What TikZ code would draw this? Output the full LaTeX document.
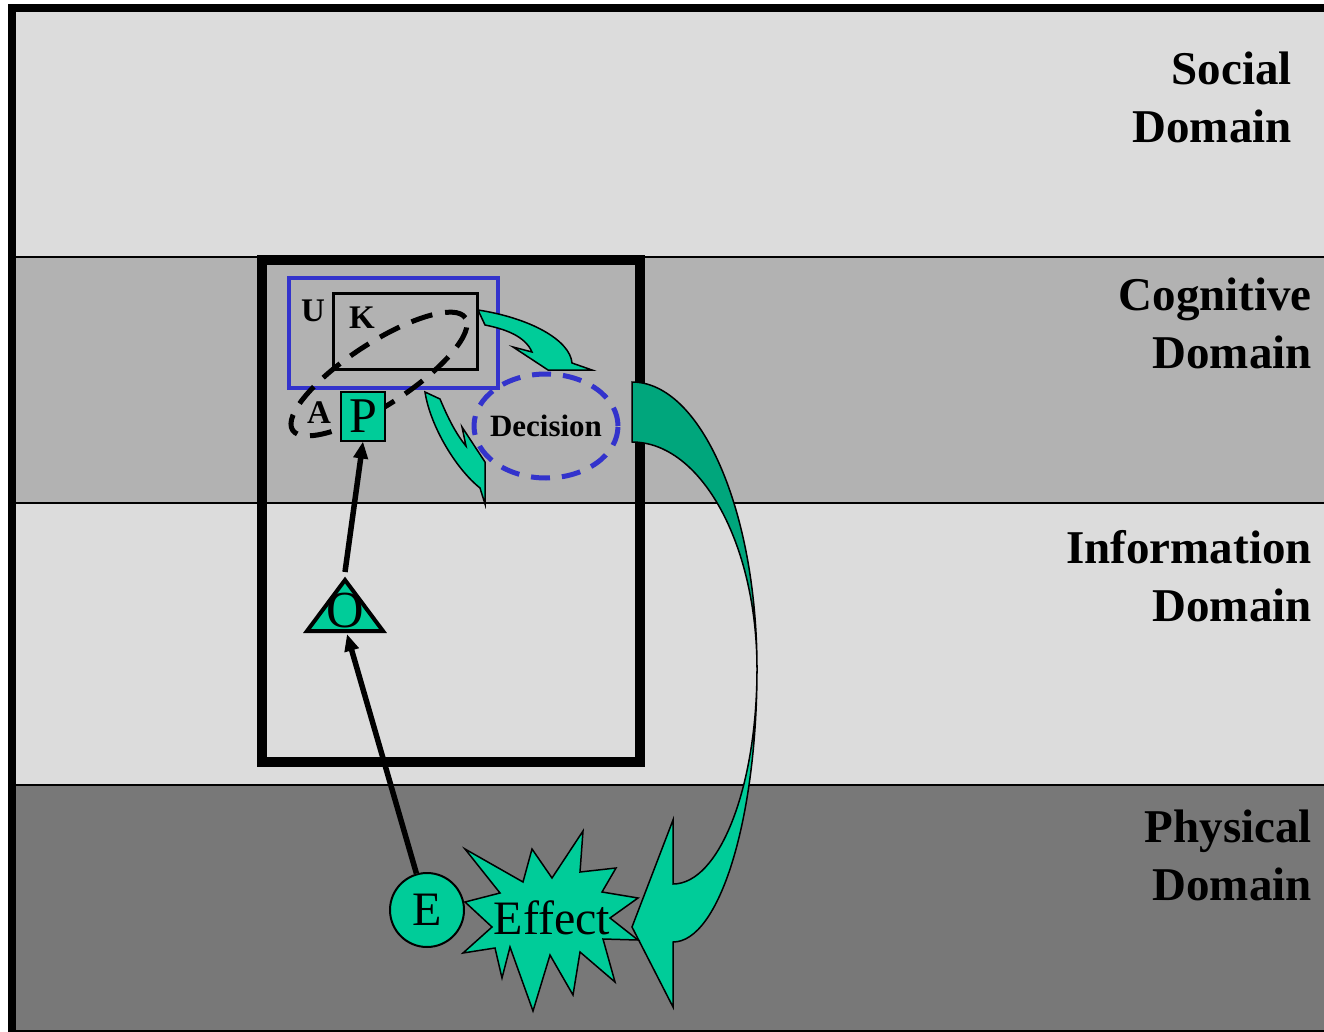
\documentclass[tikz,border=0pt]{standalone}
\usepackage{fontspec}
\setmainfont{Liberation Serif}
\usetikzlibrary{shapes.geometric,arrows.meta}
\definecolor{bandlight}{RGB}{220,220,220}
\definecolor{bandmid}{RGB}{178,178,178}
\definecolor{banddark}{RGB}{120,120,120}
\definecolor{sea}{RGB}{0,204,153}
\definecolor{seadark}{RGB}{0,166,124}
\definecolor{ublue}{RGB}{51,51,204}
\begin{document}
\begin{tikzpicture}[x=1pt,y=-1pt,
  sepline/.style={line width=2pt},
  domlabel/.style={font=\bfseries\fontsize{47}{58}\selectfont, align=right, anchor=north east, inner sep=0pt},
  greenshape/.style={fill=sea, draw=black, line width=1.5pt, line join=miter},
  bigtxt/.style={font=\fontsize{48}{48}\selectfont, inner sep=0pt},
  smalllbl/.style={font=\bfseries\fontsize{33}{33}\selectfont, inner sep=0pt},
  conn/.style={line width=5.5pt, -{Triangle[length=17pt,width=14pt]}},
]
\useasboundingbox (0,0) rectangle (1324,1032);
\clip (0,0) rectangle (1324,1032);
\fill[white] (0,0) rectangle (1324,1032);
% bands
\fill[bandlight] (12,8) rectangle (1340,257);
\fill[bandmid] (12,257) rectangle (1340,503);
\fill[bandlight] (12,503) rectangle (1340,785);
\fill[banddark] (12,785) rectangle (1340,1034);
\draw[sepline] (12,257) -- (1340,257);
\draw[sepline] (12,503) -- (1340,503);
\draw[sepline] (12,785) -- (1340,785);
\draw[line width=8pt] (12,8) rectangle (1340,1034);
% domain labels
\node[domlabel] (social) at (1292,52) {Social\\Domain};
\node[domlabel] (cog) at (1312,278) {Cognitive\\Domain};
\node[domlabel] (info) at (1312,530) {Information\\Domain};
\node[domlabel] (phys) at (1312,810) {Physical\\Domain};
% inner frame
\draw[line width=10pt] (262,260) rectangle (640,762);
% U and K boxes
\draw[ublue, line width=4.5pt] (289,278) rectangle (498,388);
\draw[line width=3pt] (333,293) rectangle (477,369);
\node[smalllbl] (U) at (313,311) {U};
\node[smalllbl] (K) at (362,318) {K};
% dashed ellipse around A and P
\node[ellipse, draw, line width=5pt, dash pattern=on 22pt off 13pt, rotate=33,
      minimum width=206pt, minimum height=62pt, inner sep=0pt] (AP) at (379,374) {};
\node[smalllbl] (A) at (319,413) {A};
\node[rectangle, draw, fill=sea, line width=2pt, minimum width=44pt, minimum height=49pt,
      inner sep=0pt, font=\fontsize{50}{50}\selectfont] (P) at (363,416) {P};
% decision
\node[inner sep=0pt, font=\bfseries\fontsize{31}{31}\selectfont] (D) at (546,426) {Decision};
\draw[ublue, line width=5pt, dash pattern=on 19pt off 12pt]
  (D.center) ellipse [x radius=72pt, y radius=52pt];
% small green curved arrows
\filldraw[greenshape] (478,310) -- (485,325)
  .. controls (505,329) and (525,336) .. (532,352)
  -- (513,347) -- (548,370) -- (592,370) -- (572,363)
  .. controls (570,340) and (530,318) .. (478,310) -- cycle;
\filldraw[greenshape] (425,392) -- (440,399) .. controls (448,418) and (456,434) .. (466,446)
  -- (462,427) -- (485,462) -- (485,504) -- (480,488)
  .. controls (455,468) and (430,425) .. (425,392) -- cycle;
% big curved arrow
\filldraw[fill=seadark, draw=black, line width=1.5pt]
  (632,382) .. controls (701,382) and (757,511) .. (757,669)
  .. controls (757,544) and (701,442) .. (632,442) -- cycle;
\filldraw[greenshape]
  (757,669) .. controls (757,820) and (719,942) .. (673,942)
  -- (673,1007) -- (632,927) -- (673,820) -- (673,884)
  .. controls (719,884) and (757,788) .. (757,669) -- cycle;
% effect star
\filldraw[greenshape] (465,849) -- (523,882) -- (532,849) -- (552,878) -- (583,831)
  -- (580,872) -- (616,868) -- (602,892) -- (638,898) -- (610,918) -- (638,940)
  -- (603,939) -- (615,982) -- (580,952) -- (573,995) -- (550,955) -- (533,1011)
  -- (510,947) -- (502,978) -- (495,948) -- (463,953) -- (492,927) -- (465,902)
  -- (500,893) -- cycle;
\node[bigtxt] (effect) at (552,918) {Effect};
% E circle
\node[circle, draw, line width=2pt, fill=sea, minimum size=74pt, inner sep=0pt,
      font=\fontsize{48}{48}\selectfont] (E) at (427,910) {E};
% O triangle
\filldraw[fill=sea, draw=black, line width=4pt, line join=miter]
  (345,580) -- (307,631) -- (383,631) -- cycle;
\node[bigtxt, font=\fontsize{52}{52}\selectfont] (O) at (345,611) {O};
\coordinate (Otop) at (345,572);
\coordinate (Obot) at (347,634);
% connectors
\draw[conn] (E) -- (Obot);
\draw[conn] (Otop) -- (P.south);
\end{tikzpicture}
\end{document}
